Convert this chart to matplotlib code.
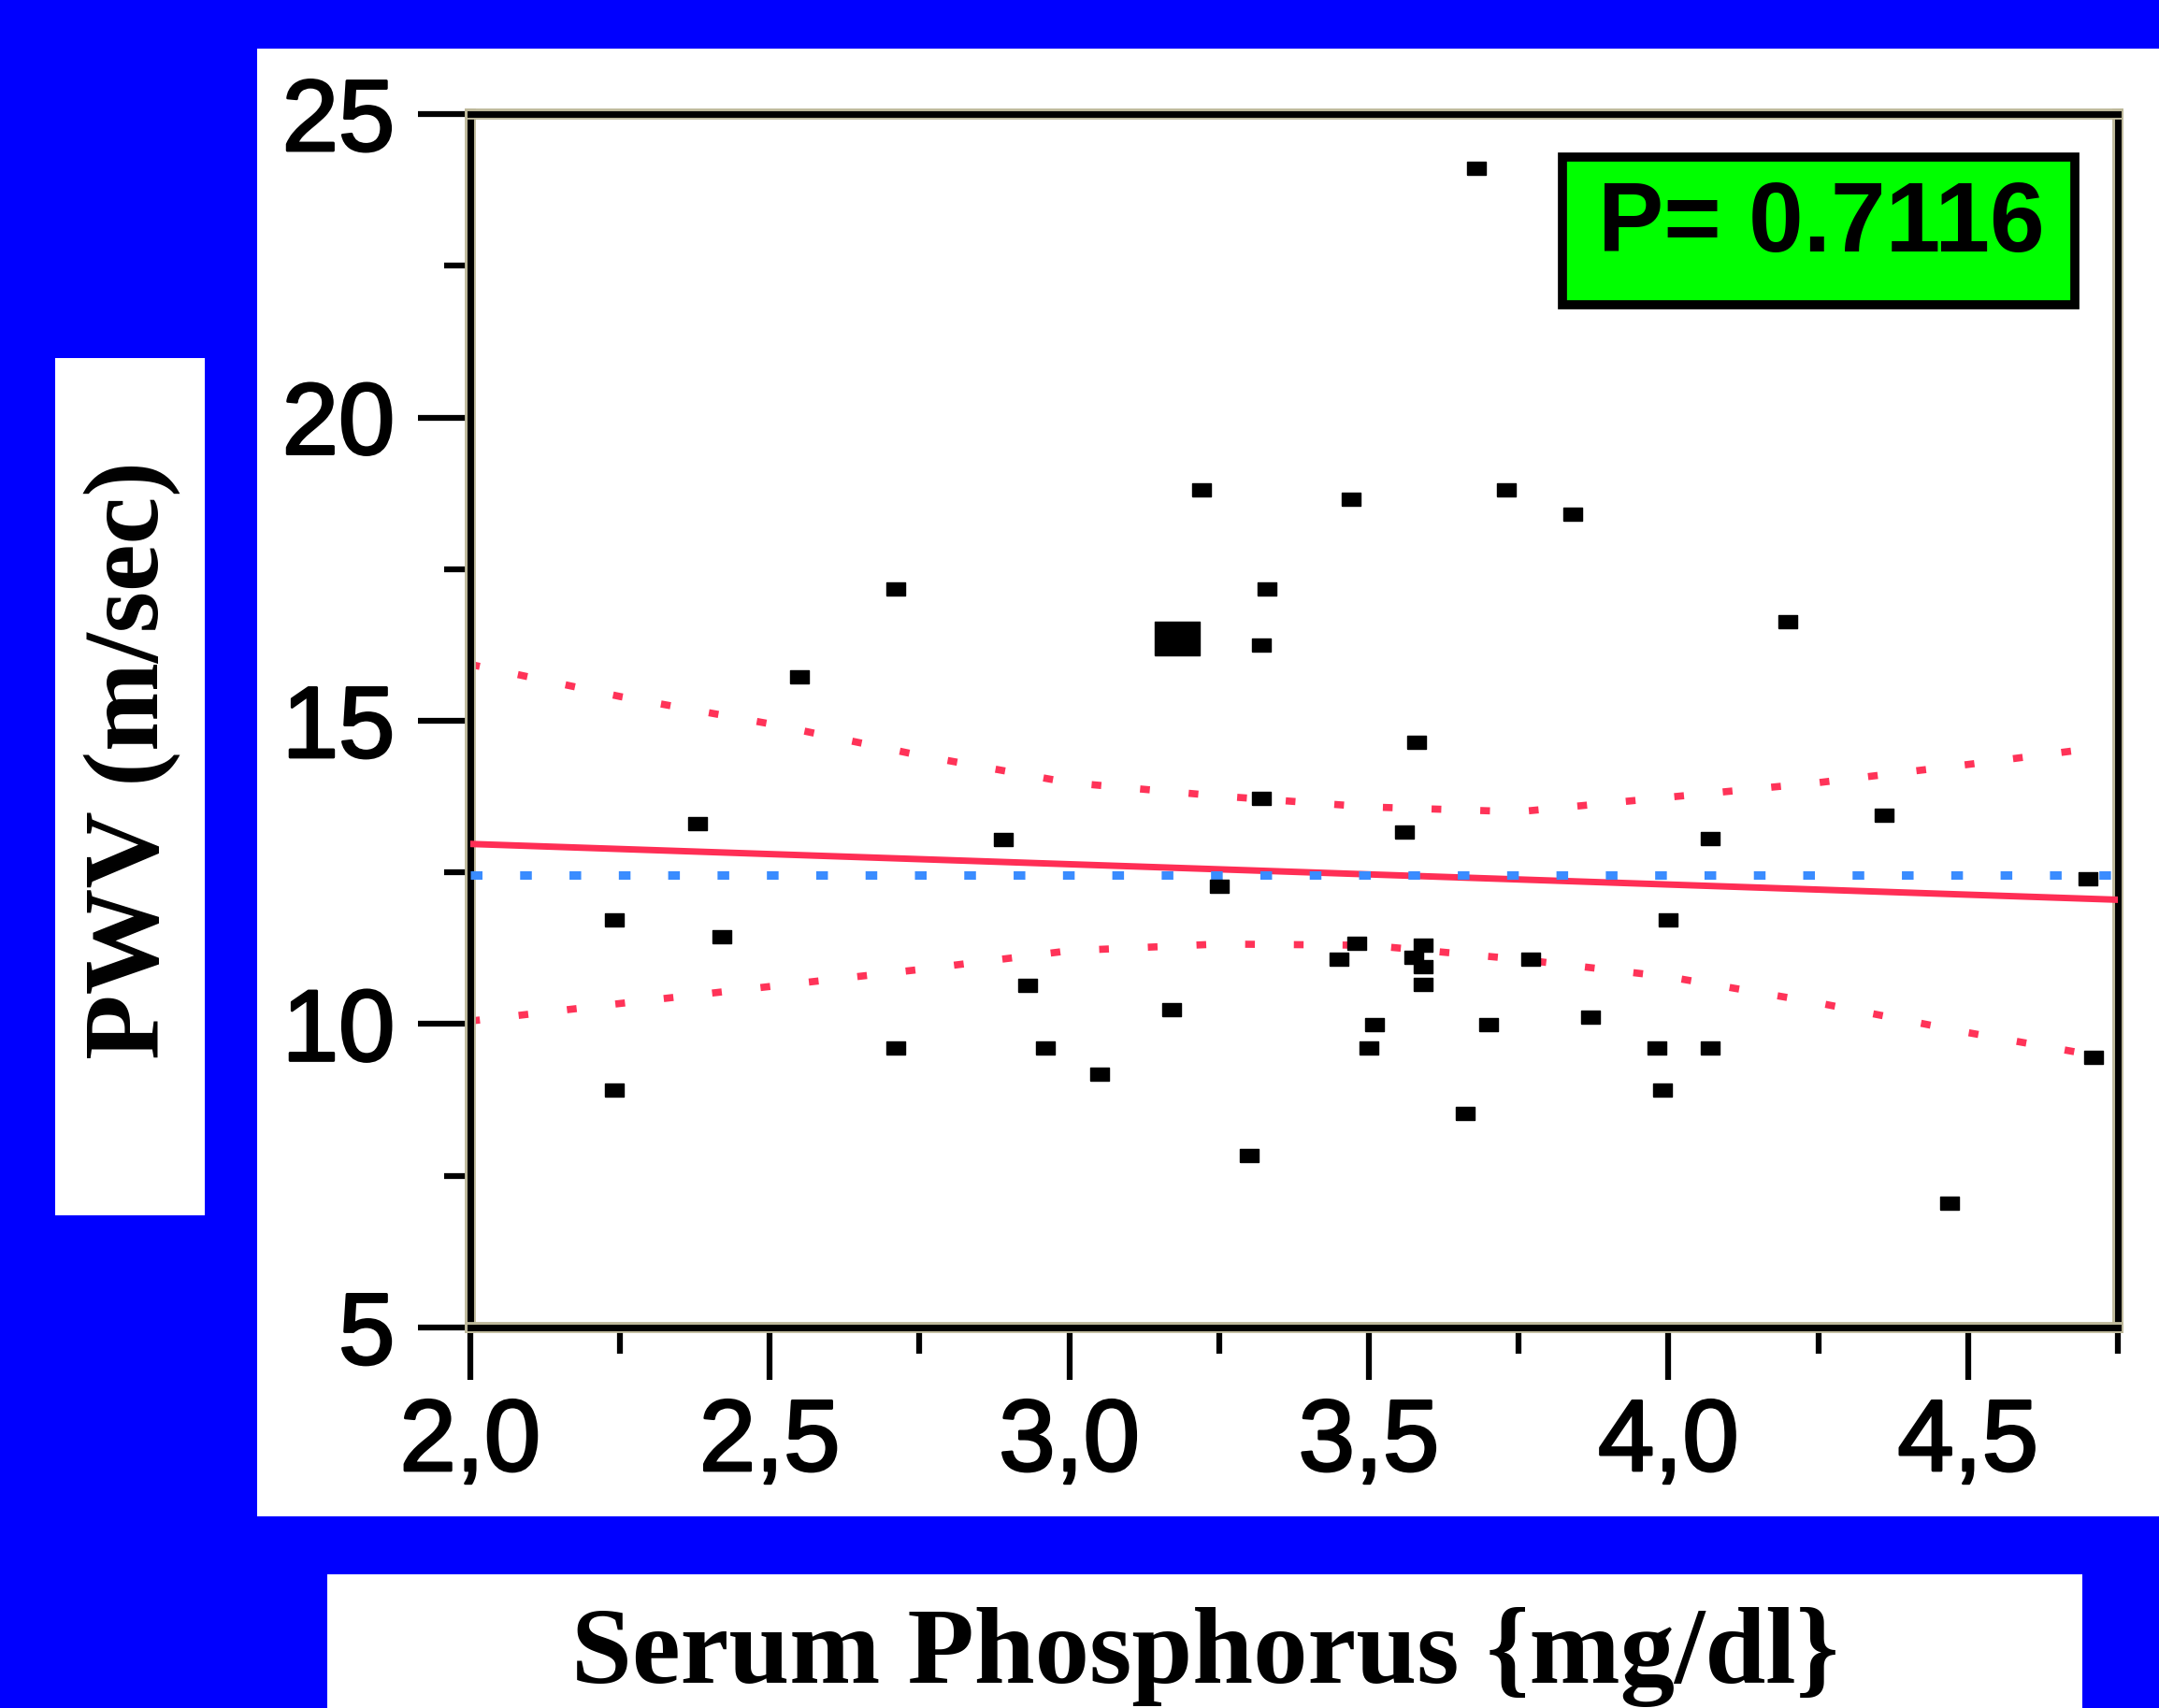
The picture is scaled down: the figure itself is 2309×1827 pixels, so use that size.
import numpy
from matplotlib import pyplot as plt
from matplotlib import patheffects as pe
from matplotlib.patches import Rectangle
from matplotlib.ticker import MultipleLocator, FuncFormatter

plt.rcParams['lines.scale_dashes'] = False

# serum phosphorus (mg/dl) vs PWV (m/sec)
phos = [2.24, 2.24, 2.38, 2.42, 2.55, 2.71, 2.71, 2.89, 2.93, 2.96, 3.05, 3.17,
        3.22, 3.25, 3.30, 3.32, 3.32, 3.33, 3.47, 3.45, 3.48, 3.51, 3.50, 3.56,
        3.58, 3.575, 3.59, 3.59, 3.59, 3.66, 3.68, 3.70, 3.73, 3.77, 3.84, 3.87,
        3.98, 3.99, 4.00, 4.07, 4.07, 4.20, 4.36, 4.47, 4.70, 4.71]
pwv = [11.71, 8.91, 13.31, 11.44, 15.73, 17.18, 9.60, 13.05, 10.64, 9.60, 9.18, 10.24,
       18.80, 12.28, 7.84, 13.72, 16.25, 17.18, 18.65, 11.07, 11.33, 9.99, 9.60, 13.17,
       14.65, 11.10, 11.30, 10.95, 10.65, 8.53, 24.10, 9.99, 18.80, 11.07, 18.40, 10.12,
       9.60, 8.92, 11.72, 13.06, 9.60, 16.64, 13.44, 7.05, 12.40, 9.45]

# overlapping observations drawn as one big square
phos_big = [3.18]
pwv_big = [16.36]

fit_x = [2.0, 4.75]
fit_y = [12.97, 12.05]
mean_pwv = 12.45

ci_x = [2.0, 2.25, 2.5, 2.75, 3.0, 3.25, 3.5, 3.75, 4.0, 4.25, 4.5, 4.72]
ci_upper = [15.93, 15.40, 14.95, 14.43, 13.98, 13.76, 13.58, 13.50, 13.74, 13.98, 14.28, 14.56]
ci_lower = [10.05, 10.34, 10.62, 10.90, 11.21, 11.32, 11.30, 11.07, 10.78, 10.35, 9.86, 9.47]

x_ticks = [2.0, 2.5, 3.0, 3.5, 4.0, 4.5]
y_ticks = [5, 10, 15, 20, 25]
p_text = 'P= 0.7116'

fig = plt.figure(figsize=(23.09, 18.27), dpi=100, facecolor='#0000ff')

# white panels on blue slide background
fig.add_artist(Rectangle((0.119, 0.1122), 0.881, 0.8593, transform=fig.transFigure,
                         facecolor='white', edgecolor='none', zorder=-2))
fig.add_artist(Rectangle((0.0256, 0.2884), 0.0693, 0.502, transform=fig.transFigure,
                         facecolor='white', edgecolor='none', zorder=-2))
fig.add_artist(Rectangle((0.1516, 0.0), 0.8129, 0.0783, transform=fig.transFigure,
                         facecolor='white', edgecolor='none', zorder=-2))

ax = fig.add_axes([0.2178, 0.2228, 0.7631, 0.7104])
ax.set_facecolor('white')

rect_marker = [(-0.65, -0.5), (0.65, -0.5), (0.65, 0.5), (-0.65, 0.5), (-0.65, -0.5)]
big_marker = [(-0.64, -0.5), (0.64, -0.5), (0.64, 0.5), (-0.64, 0.5), (-0.64, -0.5)]

ax.plot(ci_x, ci_upper, color='#ff3358', lw=5.5, dashes=[7.5, 30], zorder=2)
ax.plot(ci_x, ci_lower, color='#ff3358', lw=5.5, dashes=[7.5, 30], zorder=2)
ax.plot(fit_x, fit_y, color='#ff2e55', lw=5, zorder=3)
ax.plot([2.0, 4.75], [mean_pwv, mean_pwv], color='#3a8cff', lw=6.5, dashes=[9, 29], zorder=4)

ax.plot(phos, pwv, ls='none', marker=rect_marker, markersize=14, color='black', zorder=5, clip_on=False)
ax.plot(phos_big, pwv_big, ls='none', marker=big_marker, markersize=34, color='black', zorder=5)

ax.set_xlim(2.0, 4.75)
ax.set_ylim(5, 25)
ax.set_xticks(x_ticks)
ax.set_yticks(y_ticks)
ax.xaxis.set_minor_locator(MultipleLocator(0.25))
ax.yaxis.set_minor_locator(MultipleLocator(2.5))
ax.xaxis.set_major_formatter(FuncFormatter(lambda v, p: '{:.1f}'.format(v).replace('.', ',')))
ax.yaxis.set_major_formatter(FuncFormatter(lambda v, p: '%d' % v))

ax.tick_params(axis='both', which='major', direction='out', length=40, width=4.5,
               labelsize=78, labelfontfamily='Liberation Sans', color='black')
ax.tick_params(axis='both', which='minor', direction='out', length=20, width=4.5)
ax.tick_params(axis='y', which='major', pad=18)
ax.tick_params(axis='x', which='major', pad=14)
for lbl in ax.get_xticklabels() + ax.get_yticklabels():
    lbl.set_path_effects([pe.withStroke(linewidth=2, foreground='black')])

for side in ['left', 'bottom', 'top', 'right']:
    ax.spines[side].set_linewidth(5)
    ax.spines[side].set_color('black')
    ax.spines[side].set_path_effects([pe.Stroke(linewidth=8.5, foreground='#bdb89a'), pe.Normal()])

fig.text(0.0611, 0.555, 'PWV (m/sec)', rotation=90, ha='center', va='center',
         fontsize=82, fontweight='bold', family='Liberation Serif')
fig.text(0.558, 0.0148, 'Serum Phosphorus {mg/dl}', ha='center', va='baseline',
         fontsize=84, fontweight='bold', family='Liberation Serif')

fig.add_artist(Rectangle((0.7236, 0.8215), 0.2375, 0.0866, transform=fig.transFigure,
                         facecolor='#00ff00', edgecolor='black', lw=7, zorder=6))
fig.text(0.8437, 0.868, p_text, ha='center', va='center', fontsize=76,
         fontweight='bold', family='Liberation Sans', zorder=7)

fig.savefig('out.png', dpi=100, facecolor=fig.get_facecolor())
